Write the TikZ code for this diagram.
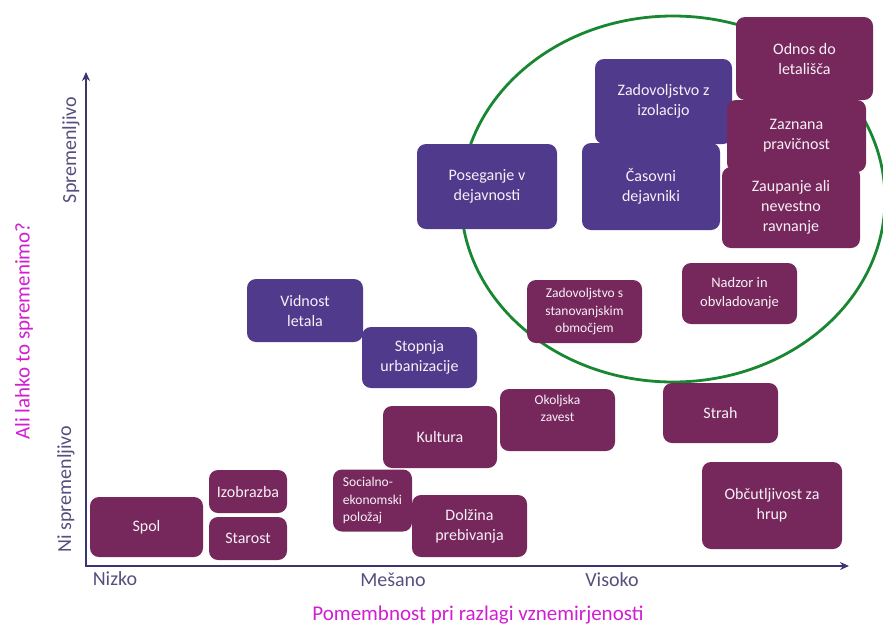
\documentclass[tikz,border=0pt]{standalone}
\usepackage{fontspec}
\setmainfont{Carlito}
\usetikzlibrary{arrows.meta}
\definecolor{violetbox}{RGB}{80,58,140}
\definecolor{plumbox}{RGB}{118,40,92}
\definecolor{axiscol}{RGB}{60,52,110}
\definecolor{tickcol}{RGB}{88,78,125}
\definecolor{titlecol}{RGB}{210,30,210}
\definecolor{ringcol}{RGB}{25,135,50}
\begin{document}
\begin{tikzpicture}[x=1pt, y=-1pt, line join=round, line cap=round,
		box/.style={rectangle, rounded corners=9pt, inner sep=0pt, align=center, text=white!94!violet,
			font=\fontsize{16}{20}\selectfont},
		vbox/.style={box, fill=violetbox},
		pbox/.style={box, fill=plumbox},
		small/.style={font=\fontsize{13.5}{17.5}\selectfont},
		tick/.style={text=tickcol, font=\fontsize{20}{24}\selectfont, inner sep=0pt},
		axtitle/.style={text=titlecol, font=\fontsize{21}{25}\selectfont, inner sep=0pt}]
			\useasboundingbox (0,0) rectangle (883,630);
			\draw[ringcol, line width=2.8pt] (673,199) ellipse [x radius=212, y radius=183];
			% lower band
			\node[pbox, minimum width=113, minimum height=60] (spol) at (146.5,527) {Spol};
			\node[pbox, minimum width=78, minimum height=43] (izobrazba) at (248,491.5) {Izobrazba};
			\node[pbox, minimum width=78, minimum height=43] (starost) at (248,538.5) {Starost};
			\node[pbox, small, align=left, minimum width=79, minimum height=62] (socialno) at (372.5,500.5) {Socialno-\\ekonomski\\položaj};
			\node[pbox, minimum width=115, minimum height=62] (dolzina) at (469.5,526) {Dolžina\\prebivanja};
			\node[pbox, minimum width=114, minimum height=62] (kultura) at (440,437) {Kultura};
			\node[pbox, small, minimum width=115, minimum height=62] (okoljska) at (557.5,420) {Okoljska\\zavest\\[6pt]};
			\node[pbox, minimum width=115, minimum height=60] (strah) at (720.5,413) {Strah};
			\node[pbox, minimum width=140, minimum height=87] (hrup) at (772,505.5) {Občutljivost za\\hrup};
			% middle band
			\node[vbox, minimum width=116, minimum height=63] (vidnost) at (305,310.5) {Vidnost\\letala};
			\node[vbox, minimum width=115, minimum height=61] (urbanizacija) at (419.5,357.5) {Stopnja\\urbanizacije};
			\node[pbox, small, minimum width=115, minimum height=63] (stanovanje) at (584.5,311.5) {Zadovoljstvo s\\stanovanjskim\\območjem};
			\node[pbox, font=\fontsize{14.5}{19}\selectfont, minimum width=115, minimum height=61] (nadzor) at (739.5,293.5) {Nadzor in\\obvladovanje};
			% upper band
			\node[vbox, minimum width=140, minimum height=85] (poseganje) at (487,186.5) {Poseganje v\\dejavnosti};
			\node[vbox, minimum width=137, minimum height=85] (izolacija) at (663.5,101.5) {Zadovoljstvo z\\izolacijo};
			\node[vbox, minimum width=138, minimum height=87] (casovni) at (651,186.5) {Časovni\\dejavniki};
			\node[pbox, minimum width=137, minimum height=83] (odnos) at (804.5,58.5) {Odnos do\\letališča};
			\node[pbox, minimum width=139, minimum height=72] (pravicnost) at (796.5,136) {Zaznana\\pravičnost};
			\node[pbox, minimum width=138, minimum height=81] (zaupanje) at (791,207.5) {Zaupanje ali\\nevestno\\ravnanje};
			% axes
			\coordinate (origin) at (86,566);
			\coordinate (ytip) at (86,72);
			\coordinate (xtip) at (849,566);
			\draw[axiscol, line width=2.2pt, -{Stealth[length=9pt, width=8pt]}] (origin) -- (ytip);
			\draw[axiscol, line width=2.2pt, -{Stealth[length=9pt, width=8pt]}] (origin) -- (xtip);
			\node[tick] (nizko) at (115,579) {Nizko};
			\node[tick] (mesano) at (393,580) {Mešano};
			\node[tick] (visoko) at (612,580) {Visoko};
			\node[tick, rotate=90] (spremenljivo) at (71,150) {Spremenljivo};
			\node[tick, rotate=90] (nispremenljivo) at (66,489) {Ni spremenljivo};
			\node[axtitle] (xtitle) at (478,615) {Pomembnost pri razlagi vznemirjenosti};
			\node[axtitle, rotate=90] (ytitle) at (24,331) {Ali lahko to spremenimo?};
		\end{tikzpicture}
\end{document}
